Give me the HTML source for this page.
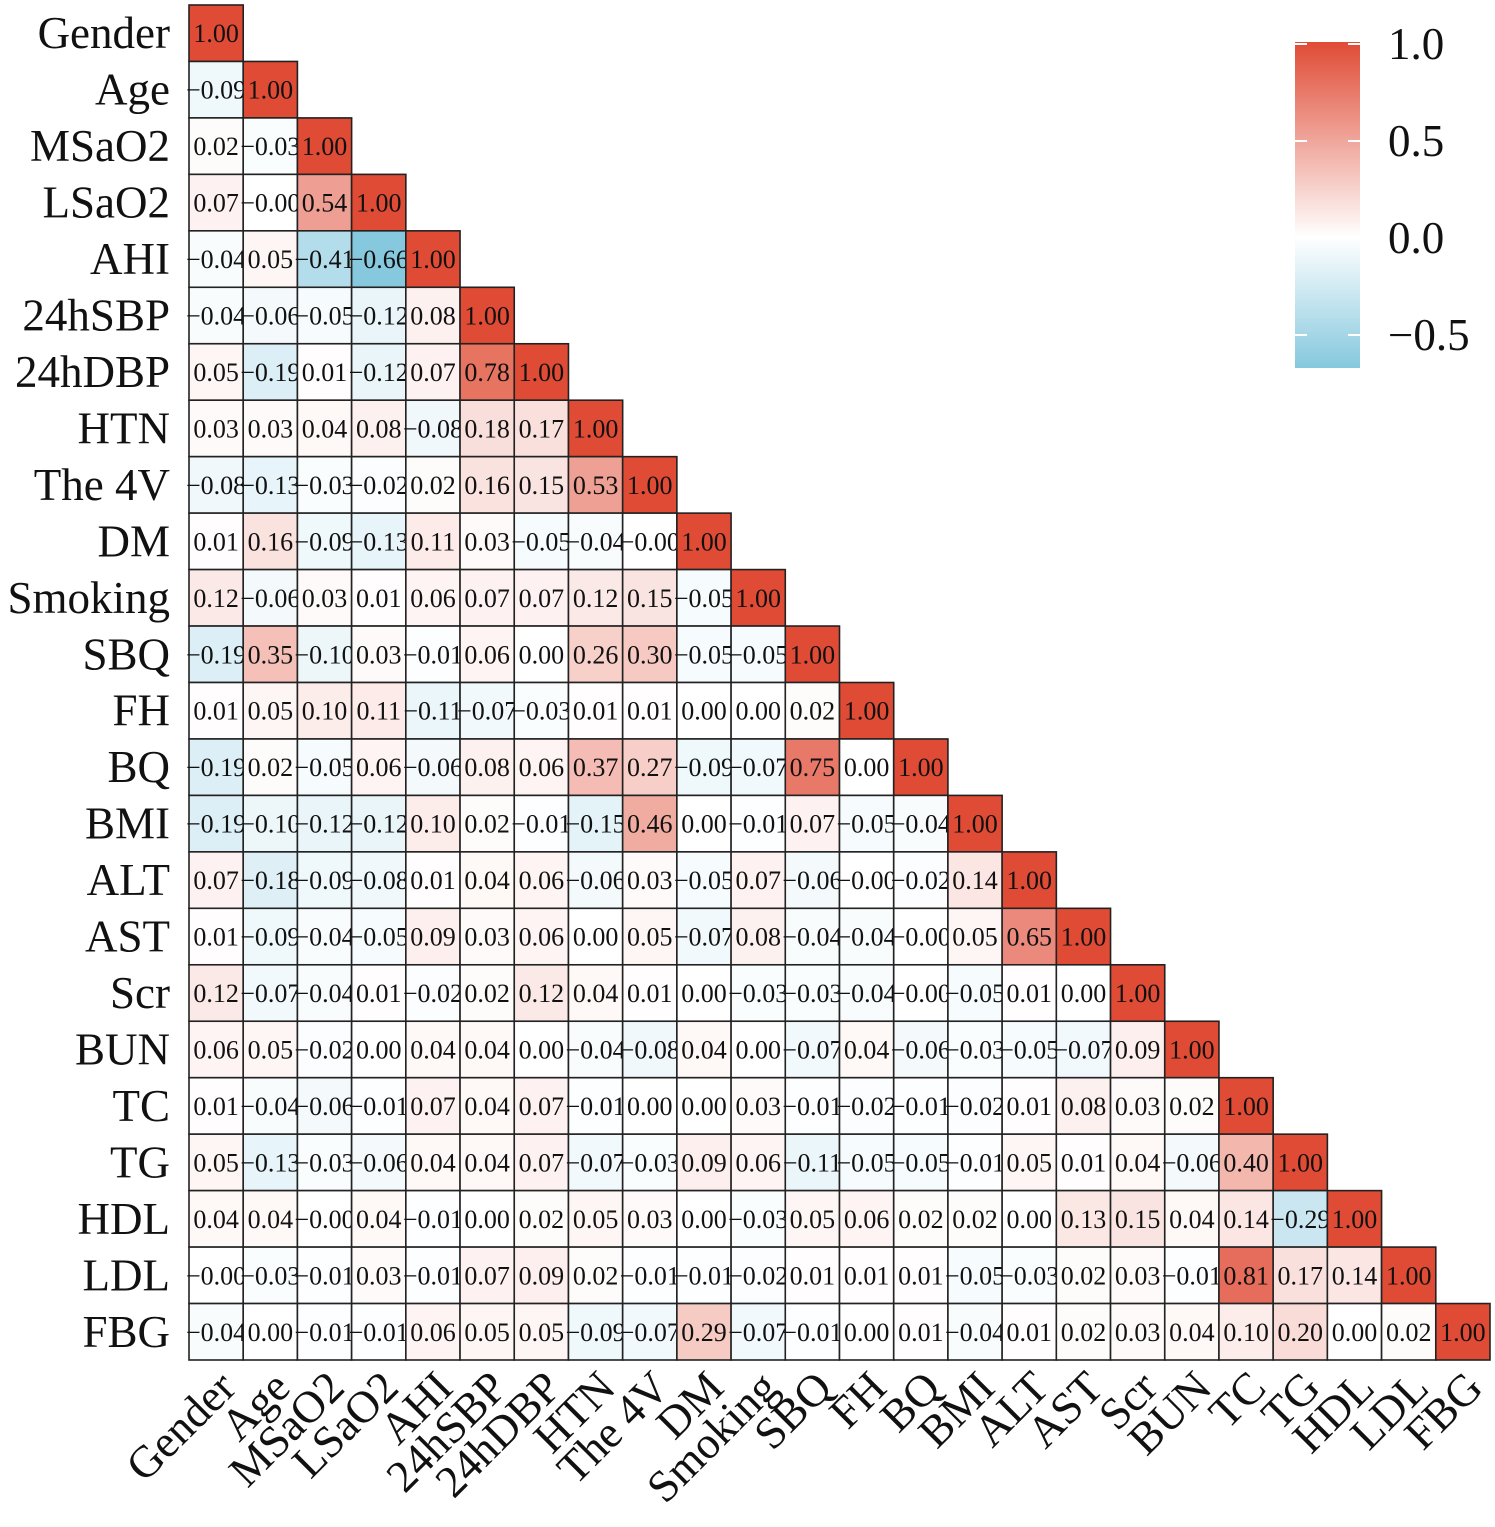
<!DOCTYPE html>
<html><head><meta charset="utf-8"><style>
html,body{margin:0;padding:0;background:#fff}
svg{display:block}
text{font-family:"Liberation Serif","DejaVu Serif",serif;fill:#111}
</style></head><body>
<svg id="chart" width="1495" height="1527" viewBox="0 0 1495 1527" xmlns="http://www.w3.org/2000/svg">
<defs>
<linearGradient id="cbar" x1="0" y1="0" x2="0" y2="1">
<stop offset="0" stop-color="#e04b35"/>
<stop offset="0.6" stop-color="#ffffff"/>
<stop offset="1" stop-color="#86c8de"/>
</linearGradient>
</defs>
<g id="cells"></g>
<g id="ylabels"></g>
<g id="xlabels"></g>
<g>
<rect x="1295" y="42" width="65" height="326" fill="url(#cbar)"/>
<g stroke="#fff" stroke-width="2">
<line x1="1295" y1="44" x2="1307" y2="44"/><line x1="1348" y1="44" x2="1360" y2="44"/>
<line x1="1295" y1="141" x2="1307" y2="141"/><line x1="1348" y1="141" x2="1360" y2="141"/>
<line x1="1295" y1="238" x2="1307" y2="238"/><line x1="1348" y1="238" x2="1360" y2="238"/>
<line x1="1295" y1="335" x2="1307" y2="335"/><line x1="1348" y1="335" x2="1360" y2="335"/>
</g>
<text x="1388" y="59" font-size="45">1.0</text>
<text x="1388" y="156" font-size="45">0.5</text>
<text x="1388" y="253" font-size="45">0.0</text>
<text x="1388" y="350" font-size="45">−0.5</text>
</g>
</svg>
<script>
const labels = ["Gender","Age","MSaO2","LSaO2","AHI","24hSBP","24hDBP","HTN","The 4V","DM","Smoking","SBQ","FH","BQ","BMI","ALT","AST","Scr","BUN","TC","TG","HDL","LDL","FBG"];
const corrRows = [
[1],
[-0.09,1],
[0.02,-0.03,1],
[0.07,-0.00,0.54,1],
[-0.04,0.05,-0.41,-0.66,1],
[-0.04,-0.06,-0.05,-0.12,0.08,1],
[0.05,-0.19,0.01,-0.12,0.07,0.78,1],
[0.03,0.03,0.04,0.08,-0.08,0.18,0.17,1],
[-0.08,-0.13,-0.03,-0.02,0.02,0.16,0.15,0.53,1],
[0.01,0.16,-0.09,-0.13,0.11,0.03,-0.05,-0.04,-0.00,1],
[0.12,-0.06,0.03,0.01,0.06,0.07,0.07,0.12,0.15,-0.05,1],
[-0.19,0.35,-0.10,0.03,-0.01,0.06,0.00,0.26,0.30,-0.05,-0.05,1],
[0.01,0.05,0.10,0.11,-0.11,-0.07,-0.03,0.01,0.01,0.00,0.00,0.02,1],
[-0.19,0.02,-0.05,0.06,-0.06,0.08,0.06,0.37,0.27,-0.09,-0.07,0.75,0.00,1],
[-0.19,-0.10,-0.12,-0.12,0.10,0.02,-0.01,-0.15,0.46,0.00,-0.01,0.07,-0.05,-0.04,1],
[0.07,-0.18,-0.09,-0.08,0.01,0.04,0.06,-0.06,0.03,-0.05,0.07,-0.06,-0.00,-0.02,0.14,1],
[0.01,-0.09,-0.04,-0.05,0.09,0.03,0.06,0.00,0.05,-0.07,0.08,-0.04,-0.04,-0.00,0.05,0.65,1],
[0.12,-0.07,-0.04,0.01,-0.02,0.02,0.12,0.04,0.01,0.00,-0.03,-0.03,-0.04,-0.00,-0.05,0.01,0.00,1],
[0.06,0.05,-0.02,0.00,0.04,0.04,0.00,-0.04,-0.08,0.04,0.00,-0.07,0.04,-0.06,-0.03,-0.05,-0.07,0.09,1],
[0.01,-0.04,-0.06,-0.01,0.07,0.04,0.07,-0.01,0.00,0.00,0.03,-0.01,-0.02,-0.01,-0.02,0.01,0.08,0.03,0.02,1],
[0.05,-0.13,-0.03,-0.06,0.04,0.04,0.07,-0.07,-0.03,0.09,0.06,-0.11,-0.05,-0.05,-0.01,0.05,0.01,0.04,-0.06,0.40,1],
[0.04,0.04,-0.00,0.04,-0.01,0.00,0.02,0.05,0.03,0.00,-0.03,0.05,0.06,0.02,0.02,0.00,0.13,0.15,0.04,0.14,-0.29,1],
[-0.00,-0.03,-0.01,0.03,-0.01,0.07,0.09,0.02,-0.01,-0.01,-0.02,0.01,0.01,0.01,-0.05,-0.03,0.02,0.03,-0.01,0.81,0.17,0.14,1],
[-0.04,0.00,-0.01,-0.01,0.06,0.05,0.05,-0.09,-0.07,0.29,-0.07,-0.01,0.00,0.01,-0.04,0.01,0.02,0.03,0.04,0.10,0.20,0.00,0.02,1]
];
const NS="http://www.w3.org/2000/svg";
const X0=189, Y0=5, CW=(1490-189)/24, CH=(1360-5)/24;
const xPos=i=>X0+i*CW, yPos=i=>Y0+i*CH;
function color(v){
  let a=[255,255,255],b,t;
  if(v>=0){b=[224,75,53];t=Math.min(v,1);}
  else{b=[134,200,222];t=Math.min(-v/0.66,1);}
  const c=a.map((x,k)=>Math.round(x+(b[k]-x)*t));
  return `rgb(${c[0]},${c[1]},${c[2]})`;
}
const fmt=v=>(v<0||Object.is(v,-0)?"−":"")+Math.abs(v).toFixed(2);
const cells=document.getElementById('cells');
corrRows.forEach((row,r)=>{
  row.forEach((v,c)=>{
    const rect=document.createElementNS(NS,'rect');
    rect.setAttribute('x',xPos(c));rect.setAttribute('y',yPos(r));
    rect.setAttribute('width',CW);rect.setAttribute('height',CH);
    rect.setAttribute('fill',color(v));rect.setAttribute('stroke','#222');rect.setAttribute('stroke-width','1.6');
    
    
    cells.appendChild(rect);
    const t=document.createElementNS(NS,'text');
    t.setAttribute('x',xPos(c)+CW/2);t.setAttribute('y',yPos(r)+CH/2+9);
    t.setAttribute('text-anchor','middle');t.setAttribute('font-size','26');
    t.textContent=fmt(v);
    
    
    cells.appendChild(t);
  });
});
const yl=document.getElementById('ylabels'), xl=document.getElementById('xlabels');
labels.forEach((lab,i)=>{
  const t=document.createElementNS(NS,'text');
  t.setAttribute('x',170);t.setAttribute('y',yPos(i)+CH/2+15);
  t.setAttribute('text-anchor','end');t.setAttribute('font-size','45');
  t.textContent=lab;
  
  
  yl.appendChild(t);
  const u=document.createElementNS(NS,'text');
  const cx=xPos(i)+CW/2+22, cy=1390;
  u.setAttribute('x',cx);u.setAttribute('y',cy);
  u.setAttribute('text-anchor','end');u.setAttribute('font-size','45');
  u.setAttribute('transform',`rotate(-45 ${cx} ${cy})`);
  u.textContent=lab;
  
  
  xl.appendChild(u);
});
</script>
</body></html>
